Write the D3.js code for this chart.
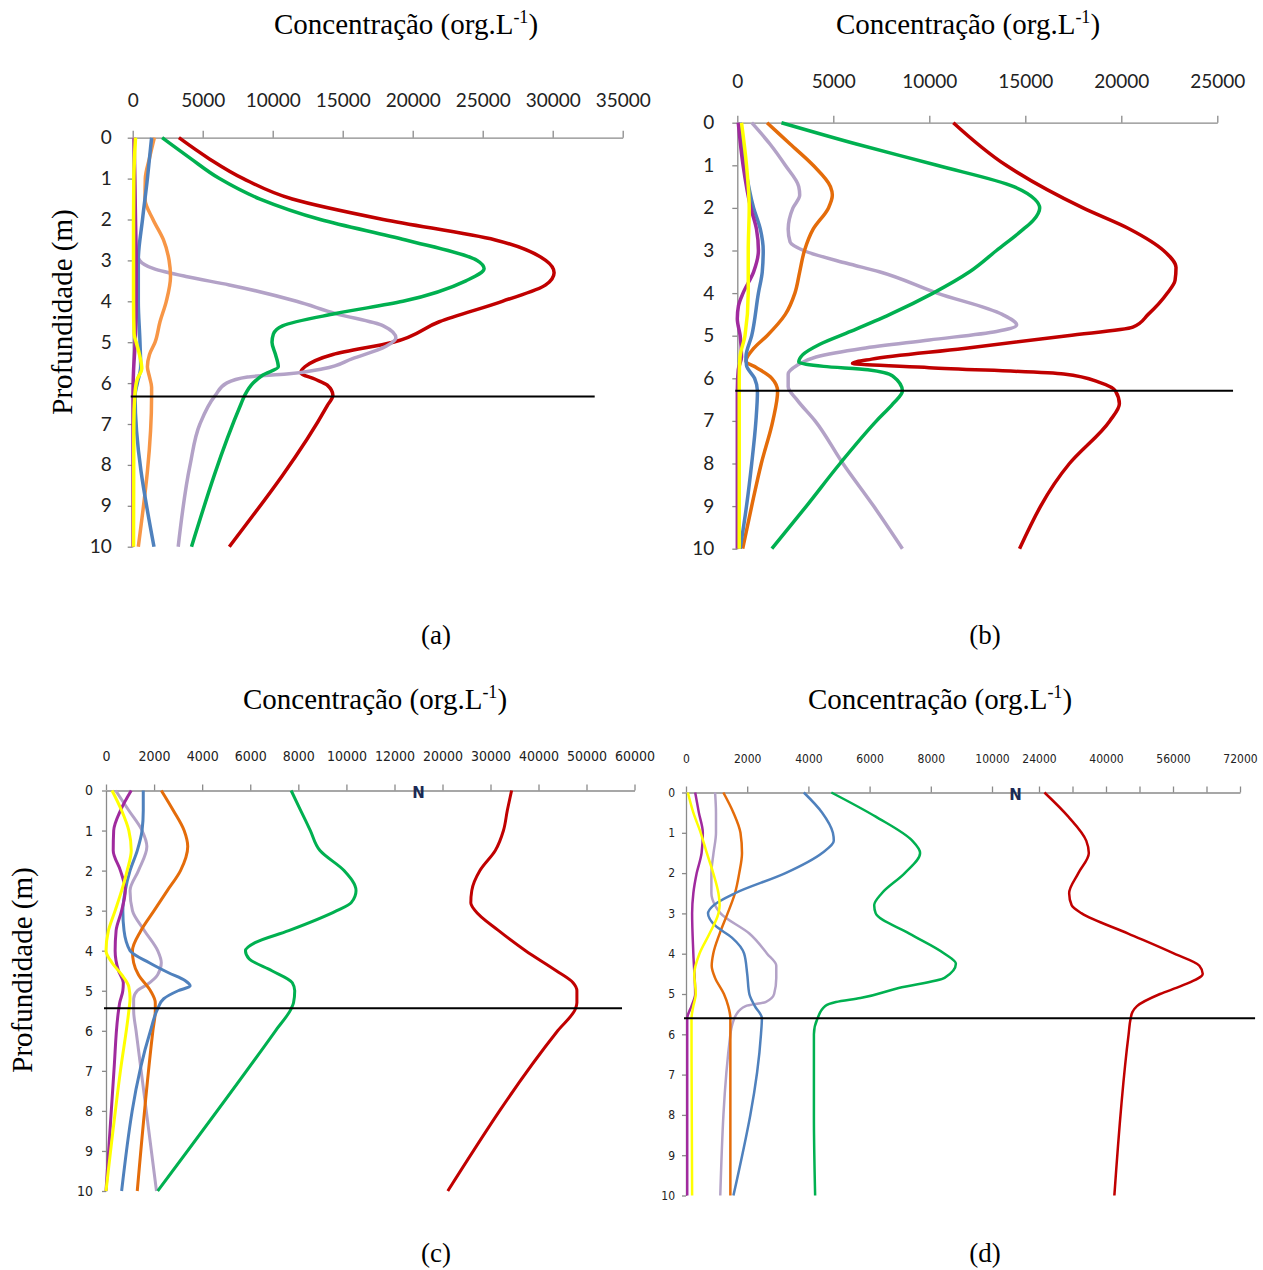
<!DOCTYPE html>
<html>
<head>
<meta charset="utf-8">
<style>
  body { margin: 0; background: #fff; }
  .title, .cap, .ylab { font-family: 'Liberation Serif', 'Times New Roman', serif; fill: #000; }
  .axis path, .axis line { stroke: #8a8a8a; stroke-width: 1.3; }
  .big .tick text { font-family: Lato, 'Open Sans', sans-serif; font-size: 19px; fill: #222; }
  .small .tick text { font-family: 'DejaVu Sans Condensed', 'Liberation Sans Narrow', sans-serif; font-size: 14px; fill: #222; }
  .tiny .tick text { font-family: 'DejaVu Sans Condensed', 'Liberation Sans Narrow', sans-serif; font-size: 12px; fill: #222; }
  .brk { font-family: 'DejaVu Sans', sans-serif; font-size: 15px; font-weight: bold; fill: #1b2a55; }
</style>
<script src="https://d3js.org/d3.v7.min.js"></script>
</head>
<body>
<svg width="1263" height="1270"></svg>
<script>
// each series: [depth (m), concentration (org/L)]
var depthTicks = [0, 1, 2, 3, 4, 5, 6, 7, 8, 9, 10];
var ticksA = [0, 5000, 10000, 15000, 20000, 25000, 30000, 35000];
var ticksB = [0, 5000, 10000, 15000, 20000, 25000];
var ticksC = [0, 2000, 4000, 6000, 8000, 10000, 12000, 20000, 30000, 40000, 50000, 60000];
var ticksD = [0, 2000, 4000, 6000, 8000, 10000, 24000, 32000, 40000, 48000, 56000, 64000, 72000];
var labelsD = [0, 2000, 4000, 6000, 8000, 10000, 24000, 40000, 56000, 72000];
var lineDepths = [6.33, 6.29, 5.44, 5.6]; // horizontal reference lines

// panel (a)
var aRed = [[0,3300],[0.5,5400],[1,7900],[1.5,11400],[2,17900],[2.5,25900],[3,29500],[3.3,30100],[3.6,29500],[4,26400],[4.5,21900],[5,18600],[5.3,14300],[5.6,12300],[5.75,12000],[5.9,13000],[6.05,13900],[6.3,14300],[6.55,13900],[10,6900]];
var aGreen = [[0,2100],[0.5,4100],[1,6200],[1.5,9100],[2,13400],[2.5,19500],[3,24600],[3.2,25100],[3.5,23800],[4,19300],[4.3,14500],[4.6,10700],[4.8,10050],[5,9950],[5.3,10200],[5.6,10400],[5.8,9300],[6,8600],[6.3,8000],[6.5,7750],[10,4200]];
var aLav = [[0,100],[2.7,200],[3,500],[3.2,1500],[3.4,3900],[3.6,6900],[4,11700],[4.3,14500],[4.6,17900],[4.9,18800],[5.1,18100],[5.4,15700],[5.65,13600],[5.78,11000],[5.85,8200],[6,6700],[6.3,5900],[7,4800],[8,4100],[10,3250]];
var aOrange = [[0,1550],[0.5,1200],[1,900],[1.5,880],[2,1450],[2.5,2200],[3,2600],[3.4,2700],[4,2400],[4.5,1950],[5,1600],[5.3,1200],[5.6,1050],[5.85,1200],[6.1,1350],[6.3,1350],[10,400]];
var aBlue = [[0,1350],[0.5,1200],[1,1050],[2,700],[3,400],[4,400],[5,520],[5.6,570],[6,330],[6.3,170],[10,1520]];
var aPurple = [[0,100],[1,150],[2,200],[3,250],[4,250],[5,180],[5.7,60],[6.3,20],[10,20]];
var aYellow = [[0,200],[1,80],[2,60],[3,60],[4,60],[4.8,100],[5,250],[5.3,480],[5.65,650],[5.9,330],[6.3,150],[7,80],[10,60]];

// panel (b)
var bRed = [[0,11250],[1,14000],[2,18000],[2.5,20450],[3,22200],[3.4,22850],[3.7,22800],[4,22400],[4.5,21400],[4.8,20600],[5,17200],[5.3,11800],[5.55,7000],[5.65,6000],[5.75,10000],[5.9,17000],[6.1,18900],[6.3,19700],[6.6,19900],[7,19400],[8,17300],[10,14700]];
var bGreen = [[0,2300],[0.5,6200],[1,10400],[1.5,14400],[1.8,15500],[2,15750],[2.3,15400],[2.5,14900],[3,13500],[3.5,12100],[4,10200],[4.5,7950],[4.9,5900],[5.2,4300],[5.45,3400],[5.62,3200],[5.72,4500],[5.8,6800],[5.95,8100],[6.3,8600],[6.6,8100],[7,7250],[8,5350],[9,3600],[10,1800]];
var bLav = [[0,750],[0.5,1700],[1,2500],[1.5,3200],[1.7,3250],[2,2900],[2.5,2650],[2.8,2750],[3,3450],[3.3,5700],[3.5,7400],[4,10400],[4.5,13800],[4.75,14550],[4.9,13500],[5.1,10000],[5.3,6500],[5.5,4100],[5.7,3100],[5.9,2650],[6.2,2650],[6.5,3100],[7,4050],[8,5500],[9,7100],[10,8600]];
var bOrange = [[0,1550],[0.5,2750],[1,3950],[1.5,4850],[1.7,4950],[2,4750],[2.5,3950],[3,3500],[3.5,3250],[4,3000],[4.5,2500],[5,1550],[5.3,850],[5.6,450],[5.75,1000],[6,1800],[6.3,2100],[7,1850],[8,1250],[9,750],[10,280]];
var bBlue = [[0,150],[1,400],[2,850],[2.5,1200],[3,1350],[3.5,1300],[4,1100],[5,750],[5.5,450],[5.7,480],[6,900],[6.3,1050],[7,970],[8,750],[9,480],[10,150]];
var bPurple = [[0,50],[1,300],[2,700],[2.5,1000],[3,1100],[3.5,850],[4,300],[4.3,60],[4.6,0],[5,150],[5.5,220],[5.8,50],[6.3,0],[10,0]];
var bYellow = [[0,220],[1,480],[2,620],[3,570],[4,570],[5,400],[5.5,140],[6,100],[10,100]];

// panel (c)
var cRed = [[0,34400],[0.5,33500],[1,32700],[1.5,31000],[2,27800],[2.5,26100],[2.8,25900],[3,26800],[3.5,31700],[4,37300],[4.5,43700],[4.8,47200],[5,48000],[5.3,48000],[5.45,47700],[6,44000],[10,21100]];
var cGreen = [[0,7700],[0.5,8100],[1,8500],[1.5,8900],[2,9900],[2.5,10400],[2.8,10200],[3,9600],[3.5,7600],[3.8,6200],[4,5800],[4.2,5950],[4.5,6900],[4.8,7750],[5,7850],[5.3,7800],[5.45,7700],[6,7050],[10,2150]];
var cLav = [[0,400],[0.5,950],[1,1500],[1.4,1700],[2,1350],[2.5,1000],[3,1100],[3.5,1600],[4,2150],[4.3,2300],[4.6,2150],[4.85,1700],[5,1300],[5.2,1150],[5.5,1150],[6,1250],[10,2100]];
var cOrange = [[0,2300],[0.5,2800],[1,3250],[1.4,3400],[2,3100],[2.5,2550],[3,2000],[3.5,1450],[4,1100],[4.3,1150],[4.6,1350],[5,1850],[5.3,2050],[5.5,2050],[6,1950],[10,1300]];
var cBlue = [[0,1550],[0.5,1550],[1,1500],[1.5,1300],[2,1000],[2.5,800],[3,700],[3.5,750],[4,1000],[4.3,1800],[4.55,2600],[4.75,3300],[4.88,3500],[5,3000],[5.2,2400],[5.45,2150],[6,1850],[10,650]];
var cPurple = [[0,1050],[0.5,600],[1,320],[1.5,300],[2,600],[2.5,800],[3,650],[3.5,420],[4,380],[4.5,520],[4.8,720],[5,700],[5.3,570],[5.5,520],[7,330],[10,0]];
var cYellow = [[0,250],[0.5,650],[1,950],[1.5,1050],[2,880],[2.5,650],[3,380],[3.5,100],[4,0],[4.3,250],[4.6,650],[4.9,950],[5.2,1000],[5.5,950],[7,600],[10,0]];

// panel (d)
var dRed = [[0,25300],[0.6,31000],[1.2,35300],[1.5,35900],[2,33400],[2.5,31200],[2.8,31800],[3,34200],[3.5,45300],[4,56300],[4.3,62300],[4.5,63100],[4.8,58000],[5,52900],[5.3,47400],[5.45,46300],[5.6,45900],[6,45400],[10,42000]];
var dGreen = [[0,4750],[0.6,6200],[1.2,7400],[1.5,7650],[2,7150],[2.5,6400],[2.8,6150],[3,6200],[3.5,7300],[4,8450],[4.25,8820],[4.6,8450],[4.85,6950],[5.1,5700],[5.2,4900],[5.3,4550],[5.6,4300],[6,4180],[8,4180],[10,4220]];
var dBlue = [[0,3850],[0.5,4450],[1,4800],[1.2,4830],[1.5,4450],[2,3250],[2.5,1600],[2.8,900],[3,720],[3.3,950],[3.6,1500],[4,1900],[4.5,2000],[5,2070],[5.3,2250],[5.6,2480],[6,2450],[10,1550]];
var dLav = [[0,950],[0.5,980],[1,980],[1.5,900],[2,830],[2.5,830],[2.8,950],[3,1130],[3.5,2070],[4,2650],[4.3,2950],[4.6,2950],[5,2880],[5.2,2600],[5.3,1950],[5.5,1650],[6,1450],[10,1120]];
var dOrange = [[0,1220],[0.5,1550],[1,1780],[1.5,1830],[2,1740],[2.5,1600],[3,1360],[3.5,1100],[4,890],[4.3,840],[4.6,950],[5,1240],[5.3,1380],[5.6,1450],[10,1450]];
var dPurple = [[0,300],[0.5,420],[1,550],[1.5,510],[2,350],[2.5,240],[3,200],[4,240],[5,300],[5.3,180],[5.6,40],[10,40]];
var dYellow = [[0,60],[0.5,240],[1,480],[1.5,680],[2,890],[2.5,1060],[2.8,1100],[3,1060],[3.5,770],[4,440],[4.5,270],[5,320],[5.3,240],[5.6,180],[10,200]];

var RED = '#c00000', GREEN = '#00b050', LAV = '#b3a2c7', BLUE = '#4f81bd',
    PURPLE = '#a02a9e', YELLOW = '#ffff00', ORANGE = '#e46c0a', ORANGE_L = '#f79646';

var svg = d3.select('svg');

var panels = [
  { cls: 'big', xDom: [0, 35000], xRng: [132.7, 622.7], yRng: [137.7, 546.7], ticks: ticksA, labels: ticksA,
    tSize: 7, tPad: 24, ySize: 5, yPad: 16, lineEnd: 33000, lw: 3.5, depthLine: lineDepths[0],
    titleX: 406, titleY: 34, capX: 436, capY: 644, cap: '(a)', ylab: [62, 312],
    series: [[aRed, RED], [aLav, LAV], [aGreen, GREEN], [aOrange, ORANGE_L], [aBlue, BLUE], [aPurple, PURPLE], [aYellow, YELLOW]] },
  { cls: 'big', xDom: [0, 25000], xRng: [737.3, 1217.3], yRng: [122.7, 548.7], ticks: ticksB, labels: ticksB,
    tSize: 7, tPad: 28, ySize: 5, yPad: 18, lineEnd: 25820, lw: 3.5, depthLine: lineDepths[1],
    titleX: 968, titleY: 34, capX: 985, capY: 644, cap: '(b)',
    series: [[bRed, RED], [bLav, LAV], [bGreen, GREEN], [bOrange, ORANGE], [bBlue, BLUE], [bPurple, PURPLE], [bYellow, YELLOW]] },
  { cls: 'small', xDom: [0, 12000, 20000, 60000], xRng: [106, 394.5, 442.5, 634.5], yRng: [790.5, 1191], ticks: ticksC, labels: ticksC,
    tSize: 6, tPad: 24, ySize: 4, yPad: 9, lineEnd: 57400, lw: 3, depthLine: lineDepths[2], brk: 16000,
    titleX: 375, titleY: 709, capX: 436, capY: 1262, cap: '(c)', ylab: [22, 970],
    series: [[cRed, RED], [cLav, LAV], [cGreen, GREEN], [cOrange, ORANGE], [cBlue, BLUE], [cPurple, PURPLE], [cYellow, YELLOW]] },
  { cls: 'tiny', xDom: [0, 10000, 24000, 72000], xRng: [686, 992, 1039, 1240], yRng: [792.5, 1195.5], ticks: ticksD, labels: labelsD,
    tSize: 6, tPad: 24, ySize: 4, yPad: 7, lineEnd: 75600, lw: 2.5, depthLine: lineDepths[3], brk: 17000,
    titleX: 940, titleY: 709, capX: 985, capY: 1262, cap: '(d)',
    series: [[dRed, RED], [dLav, LAV], [dGreen, GREEN], [dOrange, ORANGE], [dBlue, BLUE], [dPurple, PURPLE], [dYellow, YELLOW]] }
];

panels.forEach(function (p) {
  var x = d3.scaleLinear().domain(p.xDom).range(p.xRng);
  var y = d3.scaleLinear().domain([0, 10]).range(p.yRng);
  var g = svg.append('g');

  var xAxis = d3.axisTop(x).tickValues(p.ticks).tickSize(p.tSize).tickPadding(p.tPad).tickSizeOuter(0)
    .tickFormat(function (d) { return p.labels.indexOf(d) >= 0 ? d : ''; });
  g.append('g').attr('class', 'axis ' + p.cls)
    .attr('transform', 'translate(0,' + y(0) + ')')
    .call(xAxis)
    .selectAll('.tick text').attr('dy', '0em');

  var yAxis = d3.axisLeft(y).tickValues(depthTicks).tickSize(p.ySize).tickPadding(p.yPad).tickSizeOuter(0);
  g.append('g').attr('class', 'axis ' + p.cls)
    .attr('transform', 'translate(' + x(0) + ',0)')
    .call(yAxis);

  if (p.brk !== undefined) {
    g.append('text').attr('class', 'brk')
      .attr('x', x(p.brk)).attr('y', y(0) + 7)
      .attr('text-anchor', 'middle')
      .text('N');
  }

  var line = d3.line()
    .x(function (d) { return x(d[1]); })
    .y(function (d) { return y(d[0]); })
    .curve(d3.curveMonotoneY);

  g.selectAll('path.series')
    .data(p.series)
    .enter()
    .append('path')
    .attr('class', 'series')
    .attr('d', function (s) { return line(s[0]); })
    .attr('fill', 'none')
    .attr('stroke', function (s) { return s[1]; })
    .attr('stroke-width', p.lw)
    .attr('stroke-linejoin', 'round');

  g.append('line')
    .attr('x1', x(0) - 2).attr('x2', x(p.lineEnd))
    .attr('y1', y(p.depthLine)).attr('y2', y(p.depthLine))
    .attr('stroke', '#000').attr('stroke-width', 2);

  var t = g.append('text').attr('class', 'title')
    .attr('x', p.titleX).attr('y', p.titleY)
    .attr('text-anchor', 'middle').attr('font-size', 29);
  t.append('tspan').text('Concentração (org.L');
  t.append('tspan').attr('dy', -11).attr('font-size', 18).text('-1');
  t.append('tspan').attr('dy', 11).text(')');

  g.append('text').attr('class', 'cap')
    .attr('x', p.capX).attr('y', p.capY)
    .attr('text-anchor', 'middle').attr('font-size', 27)
    .text(p.cap);

  if (p.ylab) {
    g.append('text').attr('class', 'ylab')
      .attr('transform', 'translate(' + p.ylab[0] + ',' + p.ylab[1] + ') rotate(-90)')
      .attr('text-anchor', 'middle').attr('dy', '0.35em').attr('font-size', 29)
      .text('Profundidade (m)');
  }
});
</script>
</body>
</html>
